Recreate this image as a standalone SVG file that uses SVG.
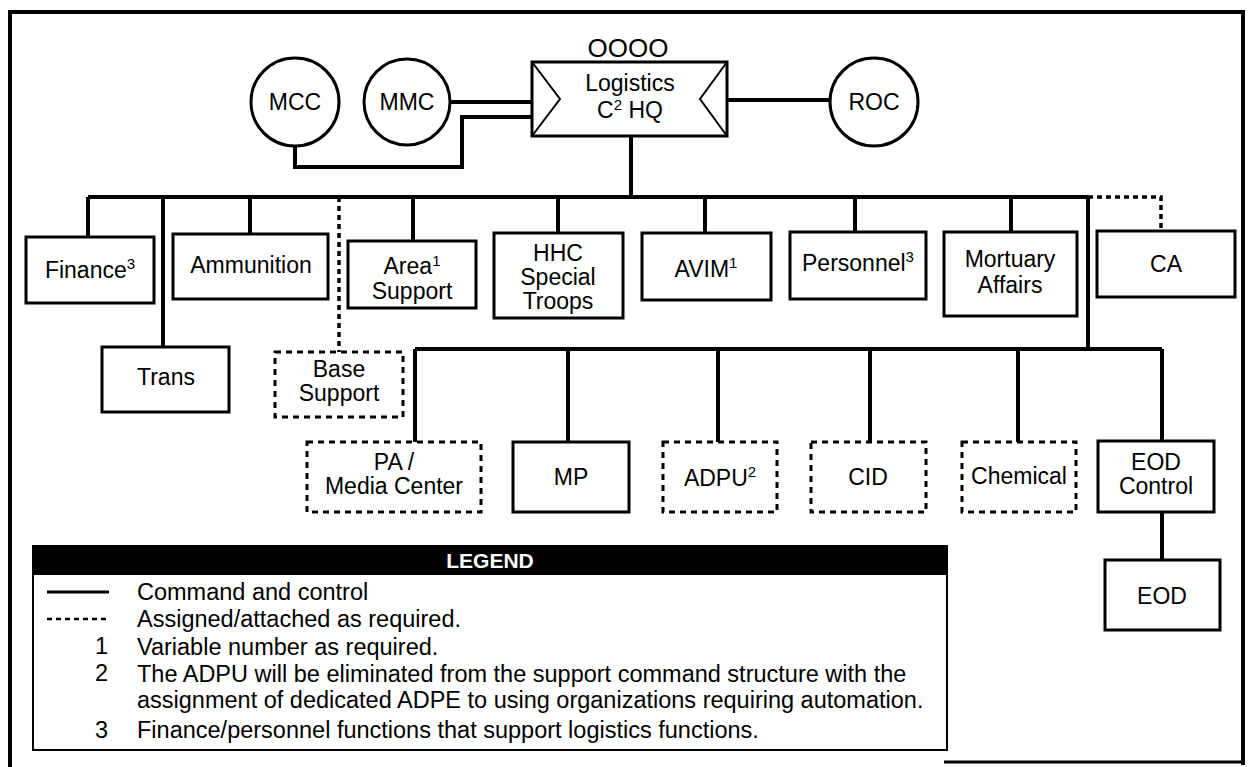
<svg xmlns="http://www.w3.org/2000/svg" width="1255" height="767" viewBox="0 0 1255 767">
<style>
  text { font-family: "Liberation Sans", Arial, Helvetica, sans-serif; fill: #000; }
  .lbl { font-size: 23px; text-anchor: middle; }
  .sup { font-size: 15px; }
  .box { fill: #fff; stroke: #000; stroke-width: 3; }
  .dbox { fill: #fff; stroke: #000; stroke-width: 3; stroke-dasharray: 6 5; }
  .ln { fill: none; stroke: #000; stroke-width: 4; }
  .dln { fill: none; stroke: #000; stroke-width: 3.5; stroke-dasharray: 5 4; }
  .leg { font-size: 23.5px; }
  .num { font-size: 23.5px; text-anchor: end; }
</style>
<rect x="0" y="0" width="1255" height="767" fill="#fff"/>
<g id="frame">
  <path d="M10 767 V12 H1243 V765" fill="none" stroke="#000" stroke-width="4"/>
  <path d="M944 762 H1243" fill="none" stroke="#000" stroke-width="3"/>
</g>
<g id="connectors">
  <path class="ln" d="M450 102 H532"/>
  <path class="ln" d="M295 147 V167 H462 V117 H532"/>
  <path class="ln" d="M727 100 H830"/>
  <path class="ln" d="M631 136 V197"/>
  <path class="ln" d="M88 197 H1088"/>
  <path class="ln" d="M88 197 V237"/>
  <path class="ln" d="M163 197 V347"/>
  <path class="ln" d="M250 197 V234"/>
  <path class="dln" d="M339 197 V352"/>
  <path class="ln" d="M413 197 V241"/>
  <path class="ln" d="M558 197 V233"/>
  <path class="ln" d="M705 197 V233"/>
  <path class="ln" d="M855 197 V232"/>
  <path class="ln" d="M1011 197 V232"/>
  <path class="dln" d="M1088 197 H1161 V231"/>
  <path class="ln" d="M1088 197 V349"/>
  <path class="ln" d="M415 349 H1162"/>
  <path class="ln" d="M415 349 V442"/>
  <path class="ln" d="M568 349 V442"/>
  <path class="ln" d="M718 349 V442"/>
  <path class="ln" d="M870 349 V442"/>
  <path class="ln" d="M1018 349 V442"/>
  <path class="ln" d="M1162 349 V442"/>
  <path class="ln" d="M1162 512 V560"/>
</g>
<g id="hq">
  <text x="628" y="57" style="font-size:26px" text-anchor="middle">OOOO</text>
  <rect class="box" x="532" y="62" width="195" height="74"/>
  <polyline points="532,62 560,99 532,136" fill="none" stroke="#000" stroke-width="2"/>
  <polyline points="727,62 700,99 727,136" fill="none" stroke="#000" stroke-width="2"/>
  <text class="lbl" x="630" y="91">Logistics</text>
  <text class="lbl" x="630" y="118">C<tspan class="sup" dy="-8">2</tspan><tspan dy="8"> HQ</tspan></text>
</g>
<g id="mcc">
  <circle class="box" cx="295" cy="102" r="44"/>
  <text class="lbl" x="295" y="110">MCC</text>
</g>
<g id="mmc">
  <circle class="box" cx="407" cy="102" r="43"/>
  <text class="lbl" x="407" y="110">MMC</text>
</g>
<g id="roc">
  <circle class="box" cx="874" cy="102" r="44"/>
  <text class="lbl" x="874" y="110">ROC</text>
</g>
<g id="finance">
  <rect class="box" x="26" y="237" width="128" height="66"/>
  <text class="lbl" x="90" y="278">Finance<tspan class="sup" dy="-9">3</tspan></text>
</g>
<g id="ammunition">
  <rect class="box" x="173" y="234" width="155" height="65"/>
  <text class="lbl" x="251" y="273">Ammunition</text>
</g>
<g id="trans">
  <rect class="box" x="102" y="347" width="127" height="65"/>
  <text class="lbl" x="166" y="385">Trans</text>
</g>
<g id="base-support">
  <rect class="dbox" x="275" y="352" width="128" height="65"/>
  <text class="lbl" x="339" y="377">Base</text>
  <text class="lbl" x="339" y="401">Support</text>
</g>
<g id="area-support">
  <rect class="box" x="348" y="241" width="128" height="67"/>
  <text class="lbl" x="412" y="274">Area<tspan class="sup" dy="-8">1</tspan></text>
  <text class="lbl" x="412" y="299">Support</text>
</g>
<g id="hhc">
  <rect class="box" x="494" y="233" width="129" height="85"/>
  <text class="lbl" x="558" y="261">HHC</text>
  <text class="lbl" x="558" y="285">Special</text>
  <text class="lbl" x="558" y="309">Troops</text>
</g>
<g id="avim">
  <rect class="box" x="642" y="233" width="129" height="67"/>
  <text class="lbl" x="706" y="277">AVIM<tspan class="sup" dy="-9">1</tspan></text>
</g>
<g id="personnel">
  <rect class="box" x="790" y="232" width="136" height="67"/>
  <text class="lbl" x="858" y="271">Personnel<tspan class="sup" dy="-9">3</tspan></text>
</g>
<g id="mortuary">
  <rect class="box" x="944" y="232" width="133" height="84"/>
  <text class="lbl" x="1010" y="267">Mortuary</text>
  <text class="lbl" x="1010" y="293">Affairs</text>
</g>
<g id="ca">
  <rect class="box" x="1097" y="231" width="138" height="66"/>
  <text class="lbl" x="1166" y="272">CA</text>
</g>
<g id="pa">
  <rect class="dbox" x="307" y="442" width="174" height="70"/>
  <text class="lbl" x="394" y="470">PA /</text>
  <text class="lbl" x="394" y="494">Media Center</text>
</g>
<g id="mp">
  <rect class="box" x="513" y="442" width="116" height="70"/>
  <text class="lbl" x="571" y="485">MP</text>
</g>
<g id="adpu">
  <rect class="dbox" x="663" y="442" width="114" height="70"/>
  <text class="lbl" x="720" y="486">ADPU<tspan class="sup" dy="-9">2</tspan></text>
</g>
<g id="cid">
  <rect class="dbox" x="811" y="442" width="115" height="70"/>
  <text class="lbl" x="868" y="485">CID</text>
</g>
<g id="chemical">
  <rect class="dbox" x="962" y="442" width="114" height="70"/>
  <text class="lbl" x="1019" y="484">Chemical</text>
</g>
<g id="eod-control">
  <rect class="box" x="1098" y="441" width="116" height="71"/>
  <text class="lbl" x="1156" y="470">EOD</text>
  <text class="lbl" x="1156" y="494">Control</text>
</g>
<g id="eod">
  <rect class="box" x="1105" y="560" width="115" height="70"/>
  <text class="lbl" x="1162" y="604">EOD</text>
</g>
<g id="legend">
  <rect x="33" y="546" width="914" height="204" fill="#fff" stroke="#000" stroke-width="2"/>
  <rect x="33" y="546" width="914" height="29" fill="#000"/>
  <text x="490" y="568" text-anchor="middle" style="font-size:21px;font-weight:bold;fill:#fff">LEGEND</text>
  <line x1="47" y1="592" x2="109" y2="592" stroke="#000" stroke-width="3"/>
  <text class="leg" x="137" y="600">Command and control</text>
  <line x1="47" y1="619" x2="109" y2="619" stroke="#000" stroke-width="2.5" stroke-dasharray="5 4"/>
  <text class="leg" x="137" y="627">Assigned/attached as required.</text>
  <text class="num" x="108" y="654">1</text>
  <text class="leg" x="137" y="655">Variable number as required.</text>
  <text class="num" x="108" y="681">2</text>
  <text class="leg" x="137" y="682">The ADPU will be eliminated from the support command structure with the</text>
  <text class="leg" x="137" y="708">assignment of dedicated ADPE to using organizations requiring automation.</text>
  <text class="num" x="108" y="738">3</text>
  <text class="leg" x="137" y="738">Finance/personnel functions that support logistics functions.</text>
</g>
</svg>
